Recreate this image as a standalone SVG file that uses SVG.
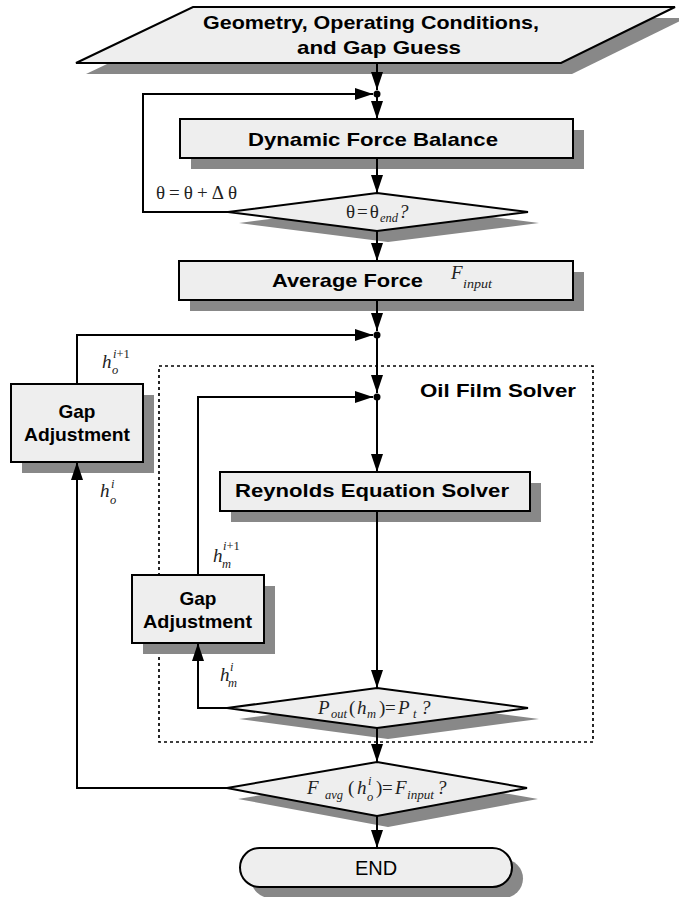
<svg xmlns="http://www.w3.org/2000/svg" width="679" height="897" viewBox="0 0 679 897">
<style>
.sh{fill:#888888;stroke:none}
.nd{fill:#eeeeee;stroke:#000;stroke-width:2}
.ln{fill:none;stroke:#000;stroke-width:2}
.t{font-family:"Liberation Sans",Arial,sans-serif;font-weight:bold;font-size:19px;fill:#000}
.e{font-family:"Liberation Sans",Arial,sans-serif;font-size:20px;fill:#000}
.m{font-family:"Liberation Serif","Times New Roman",serif;font-size:19px;fill:#222}
.mi{font-family:"Liberation Serif","Times New Roman",serif;font-style:italic;font-size:19px;fill:#222}
.s{font-family:"Liberation Serif","Times New Roman",serif;font-style:italic;font-size:12.5px;fill:#222}
.su{font-family:"Liberation Serif","Times New Roman",serif;font-size:12.5px;fill:#222}
.dot{fill:#000}
.dash{fill:none;stroke:#000;stroke-width:1.7;stroke-dasharray:3 3}
</style>
<defs>
<marker id="ah" viewBox="0 0 18 12" refX="18" refY="6" markerWidth="18" markerHeight="12" markerUnits="userSpaceOnUse" orient="auto">
<path d="M0,0 L18,6 L0,12 z" fill="#000"/>
</marker>
</defs>

<rect id="oil-film-solver-frame" class="dash" x="159" y="366" width="434" height="376"/>
<text class="t" x="420" y="397" textLength="156" lengthAdjust="spacingAndGlyphs" font-size="20">Oil Film Solver</text>

<g id="input">
<polygon class="sh" points="204,18 686,18 572,74 86,74"/>
<polygon class="nd" points="193,7 675,7 561,63 76,63"/>
<text class="t" x="203" y="29" textLength="336" lengthAdjust="spacingAndGlyphs">Geometry, Operating Conditions,</text>
<text class="t" x="297" y="54" textLength="164" lengthAdjust="spacingAndGlyphs">and Gap Guess</text>
</g>

<g id="dynamic-force-balance">
<rect class="sh" x="191" y="130" width="393" height="39"/>
<rect class="nd" x="180" y="119" width="393" height="39"/>
<text class="t" x="248" y="146" textLength="250" lengthAdjust="spacingAndGlyphs">Dynamic Force Balance</text>
</g>

<g id="theta-check">
<polygon class="sh" points="388,204 539,223 388,242 239,223"/>
<polygon class="nd" points="377,193 528,212 377,231 228,212"/>
<text class="m" x="346" y="218">θ<tspan dx="2">=</tspan><tspan dx="2">θ</tspan><tspan class="s" dy="4" dx="1">end</tspan><tspan class="mi" dy="-4" dx="1">?</tspan></text>
</g>

<g id="average-force">
<rect class="sh" x="190" y="272" width="394" height="39"/>
<rect class="nd" x="179" y="261" width="394" height="39"/>
<text class="t" x="272" y="287" textLength="151" lengthAdjust="spacingAndGlyphs">Average Force</text>
<text class="mi" x="451" y="279">F</text>
<text class="s" x="463" y="288" textLength="29" lengthAdjust="spacingAndGlyphs">input</text>
</g>

<g id="gap-adjustment-outer">
<rect class="sh" x="22" y="395" width="132" height="78"/>
<rect class="nd" x="11" y="384" width="132" height="78"/>
<text class="t" x="77" y="418" text-anchor="middle">Gap</text>
<text class="t" x="24" y="441" textLength="106" lengthAdjust="spacingAndGlyphs">Adjustment</text>
</g>

<g id="reynolds-solver">
<rect class="sh" x="231" y="483" width="310" height="39"/>
<rect class="nd" x="220" y="472" width="310" height="39"/>
<text class="t" x="235" y="497" textLength="274" lengthAdjust="spacingAndGlyphs">Reynolds Equation Solver</text>
</g>

<g id="gap-adjustment-inner">
<rect class="sh" x="143" y="586" width="132" height="68"/>
<rect class="nd" x="132" y="575" width="132" height="68"/>
<text class="t" x="198" y="605" text-anchor="middle">Gap</text>
<text class="t" x="143" y="628" textLength="109" lengthAdjust="spacingAndGlyphs">Adjustment</text>
</g>

<g id="pressure-check">
<polygon class="sh" points="388,699 539,719 388,739 239,719"/>
<polygon class="nd" points="377,688 528,708 377,728 227,708"/>
<text class="mi" x="318" y="714">P</text>
<text class="s" x="331" y="718">out</text>
<text class="m" x="349" y="714">(</text>
<text class="mi" x="357" y="714">h</text>
<text class="s" x="367" y="718">m</text>
<text class="m" x="379" y="714">)</text>
<text class="m" x="385" y="714">=</text>
<text class="mi" x="398" y="714">P</text>
<text class="s" x="413" y="718">t</text>
<text class="mi" x="421" y="714">?</text>
</g>

<g id="force-check">
<polygon class="sh" points="388,773 538,799 388,827 238,799"/>
<polygon class="nd" points="377,762 527,788 377,816 227,788"/>
<text class="mi" x="307" y="794">F</text>
<text class="s" x="325" y="799">avg</text>
<text class="m" x="348" y="794">(</text>
<text class="mi" x="357" y="794">h</text>
<text class="su" x="368" y="785" font-style="italic">i</text>
<text class="s" x="367" y="801">o</text>
<text class="m" x="376" y="794">)</text>
<text class="m" x="382" y="794">=</text>
<text class="mi" x="395" y="794">F</text>
<text class="s" x="407" y="799" textLength="27" lengthAdjust="spacingAndGlyphs">input</text>
<text class="mi" x="437" y="794">?</text>
</g>

<g id="end">
<rect class="sh" x="251" y="859" width="272" height="39" rx="19.5"/>
<rect class="nd" x="240" y="848" width="272" height="39" rx="19.5"/>
<text class="e" x="376" y="875" text-anchor="middle">END</text>
</g>

<g id="connectors">
<path class="ln" d="M377,63 V90" marker-end="url(#ah)"/>
<path class="ln" d="M228,212 H143 V94 H373" marker-end="url(#ah)"/>
<path class="ln" d="M377,94 V119" marker-end="url(#ah)"/>
<path class="ln" d="M377,158 V193" marker-end="url(#ah)"/>
<path class="ln" d="M377,231 V261" marker-end="url(#ah)"/>
<path class="ln" d="M377,300 V331" marker-end="url(#ah)"/>
<path class="ln" d="M77,384 V335 H373" marker-end="url(#ah)"/>
<path class="ln" d="M377,335 V393" marker-end="url(#ah)"/>
<path class="ln" d="M198,575 V397 H373" marker-end="url(#ah)"/>
<path class="ln" d="M377,397 V472" marker-end="url(#ah)"/>
<path class="ln" d="M377,511 V688" marker-end="url(#ah)"/>
<path class="ln" d="M227,708 H198 V643" marker-end="url(#ah)"/>
<path class="ln" d="M377,728 V762" marker-end="url(#ah)"/>
<path class="ln" d="M227,788 H77 V462" marker-end="url(#ah)"/>
<path class="ln" d="M377,816 V848" marker-end="url(#ah)"/>
<circle class="dot" cx="377" cy="94" r="3.5"/>
<circle class="dot" cx="377" cy="335" r="3.5"/>
<circle class="dot" cx="377" cy="397" r="3.5"/>
</g>

<g id="labels">
<text class="m" x="156" y="199" textLength="81" lengthAdjust="spacing">θ=θ+Δθ</text>
<text class="mi" x="102" y="368">h</text>
<text class="su" x="113" y="358"><tspan font-style="italic">i</tspan>+1</text>
<text class="s" x="112" y="374">o</text>
<text class="mi" x="100" y="497">h</text>
<text class="su" x="111" y="488" font-style="italic">i</text>
<text class="s" x="110" y="504">o</text>
<text class="mi" x="213" y="562">h</text>
<text class="su" x="223" y="550"><tspan font-style="italic">i</tspan>+1</text>
<text class="s" x="222" y="568">m</text>
<text class="mi" x="220" y="681">h</text>
<text class="su" x="230" y="671" font-style="italic">i</text>
<text class="s" x="228" y="687">m</text>
</g>
</svg>
